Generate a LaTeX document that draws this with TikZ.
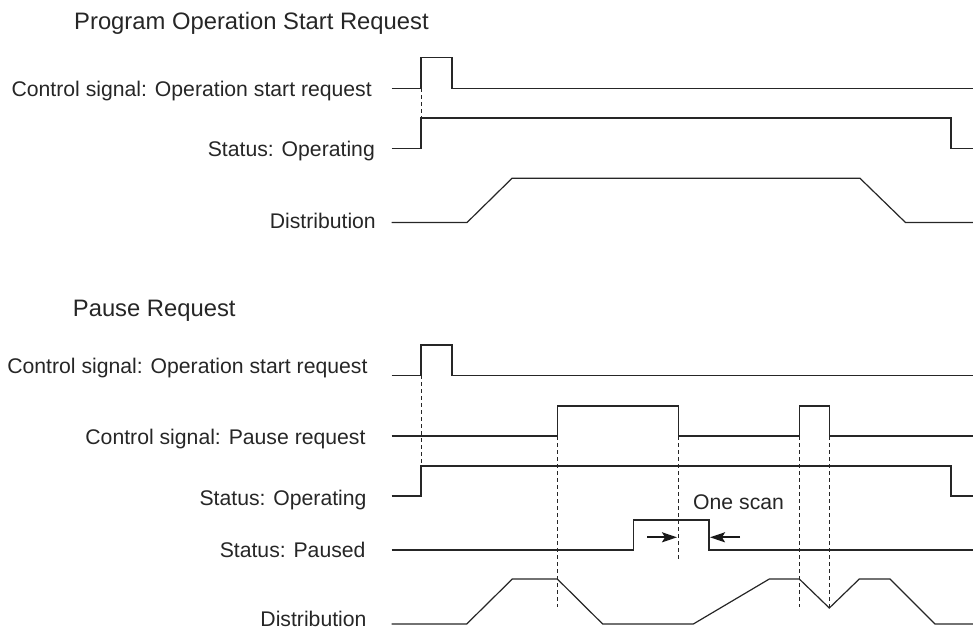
\documentclass[tikz,border=0pt]{standalone}
\usepackage{fontspec}
\setmainfont{Liberation Sans}
\usetikzlibrary{arrows.meta}
\begin{document}
\begin{tikzpicture}[x=1pt,y=-1pt,
  wave/.style={line width=1.2pt, draw=black!85, line join=miter},
  guide/.style={line width=1pt, dash pattern=on 4pt off 3pt, draw=black!85},
  lbl/.style={anchor=base east, inner sep=0pt, font=\fontsize{21.2}{24}\selectfont, text=black!85},
  ttl/.style={anchor=base west, inner sep=0pt, font=\fontsize{23.8}{27}\selectfont, text=black!85},
  scanarrow/.style={line width=2pt, draw=black!90, -{Stealth[length=15pt,width=10pt,inset=3pt]}}
]
\useasboundingbox (0,0) rectangle (973,630);

% ---------- Program Operation Start Request ----------
\node[ttl] (t1) at (74,29) {Program Operation Start Request};
\node[lbl] (l1) at (372,96.7) {Control signal: Operation start request};
\node[lbl] (l2) at (375,156) {Status: Operating};
\node[lbl] (l3) at (376,228.3) {Distribution};

\draw[wave] (391.5,88.3) -- (421,88.3) -- (421,57.3) -- (452,57.3) -- (452,88.3) -- (973,88.3);
\draw[wave] (391.5,148.3) -- (421,148.3) -- (421,118) -- (951,118) -- (951,148.3) -- (973,148.3);
\draw[wave] (391.5,222.5) -- (467,222.5) -- (512,178.3) -- (860,178.3) -- (905.5,222.5) -- (973,222.5);
\draw[guide] (421,88.3) -- (421,118);

% ---------- Pause Request ----------
\node[ttl] (t2) at (72.7,316) {Pause Request};
\node[lbl] (m1) at (367.7,373.3) {Control signal: Operation start request};
\node[lbl] (m2) at (365.7,444) {Control signal: Pause request};
\node[lbl] (m3) at (366.7,505) {Status: Operating};
\node[lbl] (m4) at (365.7,557) {Status: Paused};
\node[lbl] (m5) at (366.7,626.5) {Distribution};

\draw[wave] (391.5,375.3) -- (421,375.3) -- (421,345) -- (452,345) -- (452,375.3) -- (973,375.3);
\draw[wave] (391.5,436) -- (557.3,436) -- (557.3,406) -- (678.3,406) -- (678.3,436)
  -- (799.3,436) -- (799.3,406) -- (829.3,406) -- (829.3,436) -- (973,436);
\draw[wave] (391.5,496) -- (421,496) -- (421,466) -- (951,466) -- (951,496) -- (973,496);
\draw[wave] (391.5,550) -- (633.3,550) -- (633.3,520) -- (709,520) -- (709,550) -- (973,550);
\draw[wave] (391.5,624) -- (466.7,624) -- (512.3,579) -- (557.3,579) -- (602.7,624) -- (693.3,624)
  -- (769.3,579) -- (799.3,579) -- (829.3,608) -- (859.3,579) -- (890,579) -- (935,624) -- (973,624);

\draw[guide] (421,375.3) -- (421,466);
\draw[guide] (557.3,436) -- (557.3,607);
\draw[guide] (678.3,436) -- (678.3,560);
\draw[guide] (799.3,436) -- (799.3,607);
\draw[guide] (829.3,436) -- (829.3,607);

\coordinate (a1s) at (647.3,537.3);
\coordinate (a1e) at (677,537.3);
\coordinate (a2s) at (740,537.3);
\coordinate (a2e) at (710,537.3);
\draw[scanarrow] (a1s) -- (a1e);
\draw[scanarrow] (a2s) -- (a2e);
\node[anchor=base west, inner sep=0pt, font=\fontsize{21.2}{24}\selectfont, text=black!85] (scan) at (693,509) {One scan};
\end{tikzpicture}
\end{document}
